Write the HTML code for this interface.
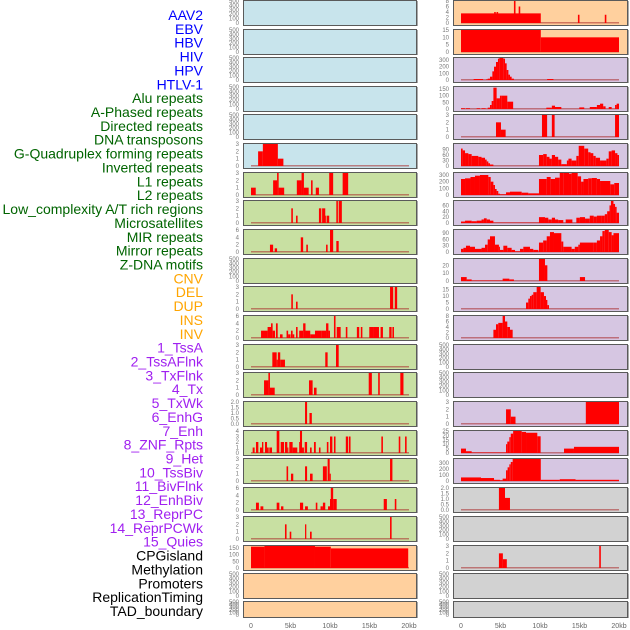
<!DOCTYPE html>
<html><head><meta charset="utf-8"><style>
html,body{margin:0;padding:0;background:#fff;}
svg{display:block;font-family:"Liberation Sans",sans-serif;}
</style></head><body>
<svg id="chart" width="630" height="630" viewBox="0 0 630 630" xmlns="http://www.w3.org/2000/svg">
<g id="labels" font-size="14" text-anchor="end"></g>
<g id="panels"></g>
<g id="xaxis" font-size="7" fill="#666" text-anchor="middle"></g>
</svg>
<script>
// ---------- data ----------
const labelTexts = ["AAV2","EBV","HBV","HIV","HPV","HTLV-1","Alu repeats","A-Phased repeats","Directed repeats","DNA transposons","G-Quadruplex forming repeats","Inverted repeats","L1 repeats","L2 repeats","Low_complexity A/T rich regions","Microsatellites","MIR repeats","Mirror repeats","Z-DNA motifs","CNV","DEL","DUP","INS","INV","1_TssA","2_TssAFlnk","3_TxFlnk","4_Tx","5_TxWk","6_EnhG","7_Enh","8_ZNF_Rpts","9_Het","10_TssBiv","11_BivFlnk","12_EnhBiv","13_ReprPC","14_ReprPCWk","15_Quies","CPGisland","Methylation","Promoters","ReplicationTiming","TAD_boundary"];
const labelGroups = [6,13,5,15,5];
const groupColors = ["#0000ff","#006400","#ffa500","#a020f0","#000000"];
const xTickValues = [0,5,10,15,20];
const xTickLabels = ["0","5kb","10kb","15kb","20kb"];

// segments: [startKb, endKb, value]
const L06 = [[0.9,1.5,2],[1.5,3.4,3],[3.4,4.1,1]];
const L07 = [[0,0.6,1],[2.8,3.3,2],[3.3,3.5,3],[3.5,4.2,1],[5.8,6.4,2],[6.4,6.7,3],[6.7,7.3,1],[7.6,7.8,2],[8.2,8.6,1],[9.9,10.4,3],[11.6,12.3,3]];
const L08 = [[5.1,5.3,2],[5.7,5.9,1],[8.6,8.9,2],[9.0,9.4,2],[9.4,9.5,1],[9.6,9.9,1],[10.8,11.0,3],[11.1,11.5,3]];
const L09 = [[2.4,2.8,2],[3.0,3.3,1],[6.3,6.6,4],[7.0,7.2,2],[9.5,9.7,2],[10.0,10.4,6],[10.8,11.1,3]];
const L11 = [[5.1,5.3,2],[5.7,5.9,1],[17.6,18.0,3],[18.2,18.5,3]];
const L12 = [[1.27,2.1,2],[2.1,2.53,3],[2.53,2.74,4],[2.74,3.04,2],[3.16,3.38,4],[3.67,4.0,1],[4.5,4.7,2],[4.7,5.0,1],[5.06,5.27,2],[5.27,5.48,1],[5.7,5.9,3],[6.1,6.6,2],[6.6,6.9,4],[6.9,7.5,2],[7.5,8.1,1],[8.1,8.9,2],[8.9,9.5,2],[9.5,9.8,4],[9.8,10.0,2],[10.5,10.7,6],[10.85,11.35,3],[12.0,12.2,3],[13.4,13.7,3],[13.9,14.1,3],[14.97,15.5,3],[15.5,16.2,3],[16.4,16.7,3],[17.5,17.8,3],[17.9,18.1,3]];
const L13 = [[2.7,3.25,2],[3.25,3.4,1],[3.4,3.7,2],[3.7,4.3,1],[9.4,9.7,2],[10.76,11.1,3]];
const L14 = [[1.65,2.2,2],[2.2,2.4,3],[2.4,3.0,1],[7.34,7.8,2],[7.97,8.3,1],[14.9,15.3,3],[16.1,16.3,3],[18.9,19.3,3]];
const L15 = [[6.84,7.1,2],[7.4,7.7,1]];
const L16 = [[0.21,0.46,1],[0.63,0.93,2],[1.14,1.39,1],[1.39,1.56,2],[1.77,2.03,2],[2.03,2.24,1],[2.32,2.66,1],[3.25,3.59,4],[3.76,4.18,2],[4.3,4.6,2],[4.6,4.73,1],[4.85,5.27,2],[5.27,5.86,1],[6.1,6.2,2],[6.2,6.46,4],[6.46,6.7,1],[6.8,7.1,2],[7.47,7.68,1],[7.97,8.2,2],[8.6,8.8,1],[9.6,9.8,2],[10.0,10.3,3],[10.5,10.7,3],[12.0,12.3,3],[12.4,12.6,3],[16.5,16.7,3],[18.7,18.9,3],[19.5,19.7,3]];
const L17 = [[4.5,4.7,2],[5.06,5.35,1],[6.84,7.1,2],[7.47,7.8,1],[9.1,9.6,2],[9.7,9.96,3],[9.96,10.1,1],[17.6,17.9,3]];
const L18 = [[0.63,1.0,2],[1.2,1.56,1],[3.25,3.59,2],[3.8,4.1,1],[6.2,6.6,2],[6.84,7.2,1],[8.2,8.4,2],[8.8,9.1,1],[9.1,9.4,2],[9.75,10.0,1],[10.0,10.1,3],[10.1,10.4,6],[10.4,10.85,3],[16.8,17.2,3],[18.2,18.4,3]];
const L19 = [[4.3,4.5,2],[4.9,5.1,1],[6.84,7.0,2],[7.47,7.68,1],[17.6,17.8,3]];
const L20 = [[0,1.7,160],[1.7,8.1,170],[8.1,10.1,160],[10.1,19.9,147]];

const R01 = [[0,10.1,3.5],[4.2,4.4,4],[4.5,4.7,4],[6.7,6.9,8],[7.3,7.5,6],[14.8,15.0,3],[18.2,18.4,3]];
const R02 = [[0,10.1,16],[10.1,20,10]];
const R03 = [[1.6,2.8,15],[3.2,3.38,10],[3.38,3.67,20],[3.67,3.97,50],[3.97,4.18,130],[4.18,4.43,200],[4.43,4.68,270],[4.68,4.85,320],[4.85,5.36,350],[5.36,5.57,320],[5.57,5.78,250],[5.78,6.0,150],[6.0,6.2,80],[6.2,6.41,50],[6.41,6.7,20],[10.9,11.7,15]];
const R04 = [[0,0.5,5],[0.63,1.14,5],[1.98,2.4,5],[2.6,3.12,5],[3.38,3.67,10],[3.67,3.88,30],[3.88,4.1,60],[4.1,4.51,160],[4.51,4.93,80],[4.93,5.15,100],[5.15,5.86,100],[5.86,6.6,55],[10.8,11.5,10],[11.5,11.9,25],[11.9,12.7,15],[14.97,15.6,12],[16.3,17.2,15],[17.2,17.6,30],[17.6,18.0,40],[18.0,18.3,20],[18.7,19.07,15],[19.5,19.7,30],[19.7,20,40]];
const R05 = [[4.43,5.06,2],[5.06,5.65,1],[10.25,10.9,3],[11.5,11.85,3],[19.5,20,3]];
const R06 = [[0,0.21,95],[0.21,0.51,85],[0.51,0.93,70],[0.93,1.35,65],[1.35,2.19,55],[2.19,2.6,50],[2.6,3.04,45],[3.04,3.25,35],[3.25,3.46,25],[3.46,3.67,15],[3.67,4.1,8],[9.87,10.4,60],[10.4,10.85,65],[10.85,11.2,50],[11.2,11.5,40],[11.5,11.9,60],[11.9,12.3,50],[12.3,12.7,35],[12.7,13.4,10],[13.4,13.6,30],[13.6,14.0,40],[14.0,14.6,30],[14.6,14.9,55],[14.9,15.6,110],[15.6,16.1,95],[16.1,16.4,75],[16.4,16.75,70],[16.75,17.05,55],[17.05,17.6,45],[17.6,18.4,30],[18.4,18.7,40],[18.7,19.07,80],[19.07,19.5,85],[19.5,19.8,70],[19.8,20,60]];
const R07 = [[0,0.51,240],[0.51,1.2,250],[1.2,1.77,270],[1.77,2.4,290],[2.4,3.46,300],[3.46,3.76,270],[3.76,4.1,200],[4.1,4.3,150],[4.3,4.51,90],[4.51,4.72,60],[4.72,4.93,20],[4.93,5.7,10],[5.7,6.2,40],[6.2,7.68,50],[7.68,8.52,35],[8.52,9.87,25],[9.87,10.85,240],[10.85,11.35,270],[11.35,11.9,240],[11.9,12.5,260],[12.5,12.95,330],[12.95,13.67,340],[13.67,14.0,320],[14.0,14.77,340],[14.77,15.2,280],[15.2,15.5,200],[15.5,16.1,240],[16.1,16.55,250],[16.55,17.2,255],[17.2,17.6,240],[17.6,18.9,210],[18.9,19.4,160],[19.4,20,180]];
const R08 = [[0,0.51,5],[0.51,1.35,8],[1.35,1.98,6],[1.98,2.6,8],[2.6,2.9,12],[2.9,3.25,16],[3.25,3.67,12],[3.67,4.1,8],[4.1,9.87,1],[9.87,10.63,20],[10.63,11.05,18],[11.05,11.5,12],[11.5,11.9,18],[11.9,12.3,12],[12.3,12.95,10],[13.25,14.1,12],[14.6,15.05,18],[15.05,15.7,20],[15.7,16.3,15],[16.3,16.8,25],[16.8,17.2,22],[17.2,17.8,25],[17.8,18.2,25],[18.2,18.5,30],[18.5,18.8,40],[18.8,18.98,60],[18.98,19.3,75],[19.3,19.5,65],[19.5,19.7,55],[19.7,20,35]];
const R09 = [[0,0.3,15],[0.3,0.63,20],[0.63,1.14,30],[1.14,1.77,25],[1.77,2.6,15],[2.6,3.04,20],[3.04,3.38,35],[3.38,3.67,60],[3.67,4.3,75],[4.3,4.8,35],[4.8,4.93,25],[4.93,5.36,10],[5.36,5.86,30],[5.86,6.41,20],[6.41,6.84,10],[6.84,7.47,3],[7.47,7.89,15],[7.89,8.73,25],[8.73,9.15,15],[9.15,9.8,10],[9.87,10.4,45],[10.4,10.85,55],[10.85,11.26,75],[11.26,11.77,95],[11.77,12.7,90],[12.7,12.95,50],[12.95,14.0,25],[14.0,14.4,15],[14.4,14.85,25],[14.85,15.05,35],[15.05,16.75,45],[16.75,17.2,45],[17.2,17.6,55],[17.6,17.9,75],[17.9,18.2,100],[18.2,18.7,110],[18.7,19.07,95],[19.07,19.3,80],[19.3,20,90]];
const R10 = [[0,0.72,5],[0.72,1.35,2],[1.35,5.27,0.5],[5.27,6.12,3],[6.12,6.7,2],[9.87,10.63,28],[10.63,10.93,20],[15.05,15.7,5]];
const R11 = [[8.23,8.52,5],[8.52,8.73,8],[8.73,8.94,10],[8.94,9.15,11],[9.15,9.58,13],[9.58,10.08,17],[10.08,10.5,13],[10.5,10.76,10],[10.76,10.93,7],[10.93,11.14,3]];
const R12 = [[4.1,4.43,3],[4.43,4.72,5],[4.72,5.27,5.5],[5.27,5.57,8],[5.57,5.86,6],[5.86,6.2,4],[6.2,6.54,3]];
const R15 = [[5.7,6.3,2],[6.3,6.9,1],[15.8,20,3]];
const R16 = [[0,0.63,5],[0.63,1.35,2],[1.35,5.7,0.5],[5.7,5.86,10],[5.86,6.12,13],[6.12,6.3,18],[6.3,6.6,22],[6.6,7.68,25],[7.68,8.23,24],[8.23,9.66,23],[9.66,10.08,19],[13.04,14.3,5],[14.3,20,7]];
const R17 = [[0,2.53,60],[2.53,4.18,50],[4.18,4.93,20],[4.93,5.27,10],[5.27,5.7,40],[5.7,5.9,180],[5.9,6.12,230],[6.12,6.3,280],[6.3,6.54,320],[6.54,10.1,370],[10.1,12.5,20],[12.5,14.5,30],[14.5,20,20]];
const R18 = [[4.8,5.57,2],[5.57,6.2,1.1]];
const R20 = [[4.8,5.3,2],[5.3,5.8,1.2],[17.5,17.7,3]];

const rowTops = [0,29,57,86,114,143,172,200,229,258,286,315,344,372,401,430,458,487,516,545,573,601];
const T500 = [0,100,200,300,400,500];
// per-panel config: [bg, domainMax, ticks, segments]
const BLUE="#c8e4ec", GREEN="#c8e0a2", ORANGE="#ffd09e", PURPLE="#d6c6e2", GRAY="#d2d2d2";
const leftPanels = [
 [BLUE,500,T500,null],[BLUE,500,T500,null],[BLUE,500,T500,null],[BLUE,500,T500,null],[BLUE,500,T500,null],
 [BLUE,3,[0,1,2,3],L06],[GREEN,3,[0,1,2,3],L07],[GREEN,3,[0,1,2,3],L08],[GREEN,6,[0,2,4,6],L09],
 [GREEN,500,T500,null],[GREEN,3,[0,1,2,3],L11],[GREEN,6,[0,2,4,6],L12],[GREEN,3,[0,1,2,3],L13],
 [GREEN,3,[0,1,2,3],L14],[GREEN,2,[0,0.5,1,1.5,2],L15],[GREEN,4,[0,1,2,3,4],L16],[GREEN,3,[0,1,2,3],L17],
 [GREEN,6,[0,2,4,6],L18],[GREEN,3,[0,1,2,3],L19],[ORANGE,165,[0,50,100,150],L20],[ORANGE,500,T500,null],[ORANGE,500,T500,null]
];
const rightPanels = [
 [ORANGE,8,[0,2,4,6,8],R01],[ORANGE,15,[0,5,10,15],R02],[PURPLE,330,[0,100,200,300],R03],[PURPLE,165,[0,50,100,150],R04],
 [PURPLE,3,[0,1,2,3],R05],[PURPLE,120,[0,30,60,90],R06],[PURPLE,330,[0,100,200,300],R07],[PURPLE,75,[0,20,40,60],R08],
 [PURPLE,105,[0,30,60,90],R09],[PURPLE,28,[0,10,20],R10],[PURPLE,17,[0,5,10,15],R11],[PURPLE,8,[0,2,4,6,8],R12],
 [PURPLE,500,T500,null],[PURPLE,500,T500,null],[PURPLE,3,[0,1,2,3],R15],[PURPLE,25,[0,5,10,15,20,25],R16],
 [PURPLE,370,[0,100,200,300],R17],[GRAY,2,[0,0.5,1,1.5,2],R18],[GRAY,500,T500,null],[GRAY,3,[0,1,2,3],R20],
 [GRAY,500,T500,null],[GRAY,500,T500,null]
];

// ---------- drawing ----------
const NS="http://www.w3.org/2000/svg";
function mk(tag, attrs, parent){const e=document.createElementNS(NS,tag);for(const k in attrs)e.setAttribute(k,attrs[k]);parent.appendChild(e);return e;}

const lg=document.getElementById('labels');
let li=0;
labelGroups.forEach((n,g)=>{for(let i=0;i<n;i++){
  const t=mk('text',{x:203,y:15+li*13.86+5,fill:groupColors[g]},lg);
  t.textContent=labelTexts[li];
  
  
  li++;}});

const pg=document.getElementById('panels');
const cols=[{x0:243,w:173,zero:251,axisX:239,panels:leftPanels,name:'left'},{x0:453,w:174,zero:461,axisX:449,panels:rightPanels,name:'right'}];
const KB=7.9;
cols.forEach(c=>{
  const xs=kb=>c.zero+kb*KB;
  c.panels.forEach((p,i)=>{
    const top=rowTops[i], h=(i===rowTops.length-1)?16:25, bottom=top+h;
    const ys=v=>bottom-2-Math.min(v,p[1])/p[1]*(h-3);
    const g=mk('g',{},pg);
    
    
    const bg=mk('rect',{x:c.x0+0.5,y:top+0.5,width:c.w,height:h,fill:p[0],stroke:'#5a5a5a','stroke-width':1},g);
    
    
    mk('line',{x1:c.x0+c.w+1.5,y1:top+1,x2:c.x0+c.w+1.5,y2:bottom+1,stroke:'#aaa','stroke-width':1},g);
    p[2].forEach(v=>{
      const t=mk('text',{x:c.axisX,y:ys(v)+2,'font-size':6,fill:'#777','text-anchor':'end'},g);
      t.textContent=(p[1]===2)?v.toFixed(1):String(v);
      
      
    });
    if(p[3]){
      const base=mk('rect',{x:xs(0),y:bottom-3,width:xs(20)-xs(0),height:1.5,fill:'rgba(170,40,40,0.55)'},g);
      
      
      p[3].forEach(s=>{
        const y=ys(s[2]);
        const r=mk('rect',{x:xs(s[0]),y:y,width:Math.max(1,xs(s[1])-xs(s[0])),height:bottom-2-y,fill:'#ff0000'},g);
        
        
      });
    }
  });
  const xg=document.getElementById('xaxis');
  xTickValues.forEach((v,k)=>{
    const t=mk('text',{x:xs(v),y:628},xg);
    t.textContent=xTickLabels[k];
    
    
  });
});
</script>
</body></html>
